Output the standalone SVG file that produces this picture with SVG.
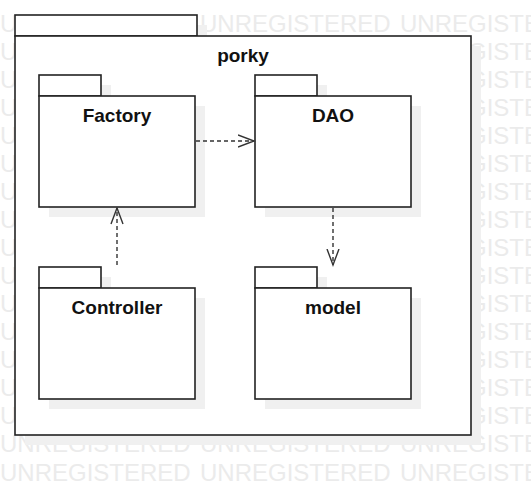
<svg xmlns="http://www.w3.org/2000/svg" width="531" height="495" viewBox="0 0 531 495">
<style>
.wm{font-family:"Liberation Sans",Arial,sans-serif;font-size:24px;fill:#ebebeb}
.sh{fill:#f0f0f0;stroke:none}
.pk{fill:#ffffff;stroke:#222222;stroke-width:1.6}
.lbl{font-family:"Liberation Sans",Arial,sans-serif;font-size:19px;font-weight:bold;fill:#111111;text-anchor:middle}
.dep{fill:none;stroke:#333333;stroke-width:1.4;stroke-dasharray:4 3}
</style>
<defs>
<marker id="open" viewBox="0 0 18 14" refX="16.5" refY="7" markerWidth="18" markerHeight="14" markerUnits="userSpaceOnUse" orient="auto">
<path d="M0.5,1 L16.5,7 L0.5,13" fill="none" stroke="#333333" stroke-width="1.4"/>
</marker>
</defs>
<rect width="531" height="495" fill="#ffffff"/>
<g id="watermark" class="wm">
<text y="31.5"><tspan x="0">UNREGISTERED</tspan><tspan x="200">UNREGISTERED</tspan><tspan x="400">UNREGISTERED</tspan></text>
<text y="59.6"><tspan x="0">UNREGISTERED</tspan><tspan x="200">UNREGISTERED</tspan><tspan x="400">UNREGISTERED</tspan></text>
<text y="87.6"><tspan x="0">UNREGISTERED</tspan><tspan x="200">UNREGISTERED</tspan><tspan x="400">UNREGISTERED</tspan></text>
<text y="115.7"><tspan x="0">UNREGISTERED</tspan><tspan x="200">UNREGISTERED</tspan><tspan x="400">UNREGISTERED</tspan></text>
<text y="143.7"><tspan x="0">UNREGISTERED</tspan><tspan x="200">UNREGISTERED</tspan><tspan x="400">UNREGISTERED</tspan></text>
<text y="171.8"><tspan x="0">UNREGISTERED</tspan><tspan x="200">UNREGISTERED</tspan><tspan x="400">UNREGISTERED</tspan></text>
<text y="199.9"><tspan x="0">UNREGISTERED</tspan><tspan x="200">UNREGISTERED</tspan><tspan x="400">UNREGISTERED</tspan></text>
<text y="227.9"><tspan x="0">UNREGISTERED</tspan><tspan x="200">UNREGISTERED</tspan><tspan x="400">UNREGISTERED</tspan></text>
<text y="256"><tspan x="0">UNREGISTERED</tspan><tspan x="200">UNREGISTERED</tspan><tspan x="400">UNREGISTERED</tspan></text>
<text y="284"><tspan x="0">UNREGISTERED</tspan><tspan x="200">UNREGISTERED</tspan><tspan x="400">UNREGISTERED</tspan></text>
<text y="312.1"><tspan x="0">UNREGISTERED</tspan><tspan x="200">UNREGISTERED</tspan><tspan x="400">UNREGISTERED</tspan></text>
<text y="340.2"><tspan x="0">UNREGISTERED</tspan><tspan x="200">UNREGISTERED</tspan><tspan x="400">UNREGISTERED</tspan></text>
<text y="368.2"><tspan x="0">UNREGISTERED</tspan><tspan x="200">UNREGISTERED</tspan><tspan x="400">UNREGISTERED</tspan></text>
<text y="396.3"><tspan x="0">UNREGISTERED</tspan><tspan x="200">UNREGISTERED</tspan><tspan x="400">UNREGISTERED</tspan></text>
<text y="424.3"><tspan x="0">UNREGISTERED</tspan><tspan x="200">UNREGISTERED</tspan><tspan x="400">UNREGISTERED</tspan></text>
<text y="452.4"><tspan x="0">UNREGISTERED</tspan><tspan x="200">UNREGISTERED</tspan><tspan x="400">UNREGISTERED</tspan></text>
<text y="480.5"><tspan x="0">UNREGISTERED</tspan><tspan x="200">UNREGISTERED</tspan><tspan x="400">UNREGISTERED</tspan></text>
</g>
<g id="porky">
<rect class="sh" x="25" y="25" width="182" height="21"/>
<rect class="sh" x="25" y="46" width="456" height="399"/>
<rect class="pk" x="15" y="15" width="182" height="21"/>
<rect class="pk" x="15" y="36" width="456" height="399"/>
<text class="lbl" x="243" y="62">porky</text>
</g>
<g id="Factory">
<rect class="sh" x="49" y="85" width="62" height="21"/>
<rect class="sh" x="49" y="106" width="156" height="111"/>
<rect class="pk" x="39" y="75" width="62" height="21"/>
<rect class="pk" x="39" y="96" width="156" height="111"/>
<text class="lbl" x="117" y="122">Factory</text>
</g>
<g id="DAO">
<rect class="sh" x="265" y="85" width="62" height="21"/>
<rect class="sh" x="265" y="106" width="156" height="111"/>
<rect class="pk" x="255" y="75" width="62" height="21"/>
<rect class="pk" x="255" y="96" width="156" height="111"/>
<text class="lbl" x="333" y="122">DAO</text>
</g>
<g id="Controller">
<rect class="sh" x="49" y="277" width="62" height="21"/>
<rect class="sh" x="49" y="298" width="156" height="111"/>
<rect class="pk" x="39" y="267" width="62" height="21"/>
<rect class="pk" x="39" y="288" width="156" height="111"/>
<text class="lbl" x="117" y="314">Controller</text>
</g>
<g id="model">
<rect class="sh" x="265" y="277" width="62" height="21"/>
<rect class="sh" x="265" y="298" width="156" height="111"/>
<rect class="pk" x="255" y="267" width="62" height="21"/>
<rect class="pk" x="255" y="288" width="156" height="111"/>
<text class="lbl" x="333" y="314">model</text>
</g>
<g id="connectors">
<line class="dep" x1="196" y1="141" x2="254" y2="141" marker-end="url(#open)"/>
<line class="dep" x1="117" y1="265" x2="117" y2="208" marker-end="url(#open)"/>
<line class="dep" x1="333" y1="208" x2="333" y2="265" marker-end="url(#open)"/>
</g>
</svg>
